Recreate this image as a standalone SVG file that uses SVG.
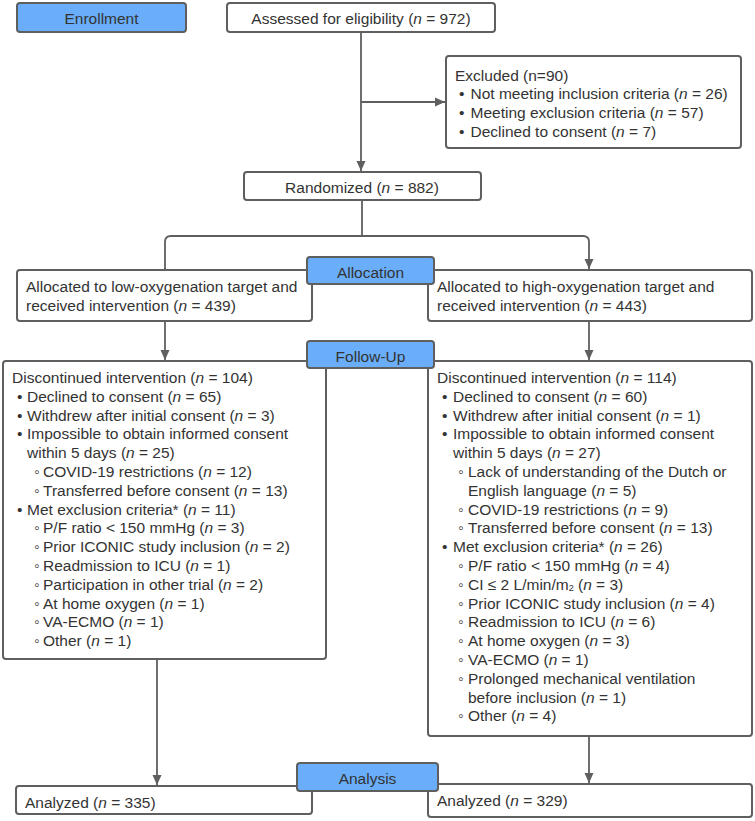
<svg xmlns="http://www.w3.org/2000/svg" width="755" height="821" viewBox="0 0 755 821">
<defs>
<style>
text{font-family:"Liberation Sans",Arial,sans-serif;font-size:15.5px;fill:#333}
.box{fill:#fff;stroke:#5f5f5f;stroke-width:2}
.lbl{fill:#6aaefa;stroke:#5f5f5f;stroke-width:2}
.c{text-anchor:middle}
.con{fill:none;stroke:#5f5f5f;stroke-width:1.8}
.i{font-style:italic}
</style>
<marker id="ah" viewBox="0 0 10 10" refX="10" refY="5" markerWidth="10" markerHeight="10" markerUnits="userSpaceOnUse" orient="auto">
<path d="M0,0.5 L10,5 L0,9.5 Z" fill="#5f5f5f"/>
</marker>
</defs>
<rect width="755" height="821" fill="#fff"/>
<g id="connectors">
<path class="con" d="M361,32 V171" marker-end="url(#ah)"/>
<path class="con" d="M361,102 H445" marker-end="url(#ah)"/>
<path class="con" d="M362,200 V236"/>
<path class="con" d="M165,269 V242 Q165,236 171,236 H583 Q589,236 589,242 V269" marker-end="url(#ah)"/>
<path class="con" d="M165,269 V268" marker-end="url(#ah)"/>
<path class="con" d="M165,321 V360" marker-end="url(#ah)"/>
<path class="con" d="M589,321 V360" marker-end="url(#ah)"/>
<path class="con" d="M157,659 V785" marker-end="url(#ah)"/>
<path class="con" d="M589,736 V783" marker-end="url(#ah)"/>
</g>
<g id="enrollment">
<rect class="lbl" x="17" y="3" width="169" height="29" rx="3"/>
<text class="c" x="101.5" y="24">Enrollment</text>
</g>
<g id="assessed">
<rect class="box" x="227" y="3" width="268" height="29" rx="3"/>
<text class="c" x="361" y="24">Assessed for eligibility (<tspan class="i">n</tspan> = 972)</text>
</g>
<g id="excluded">
<rect class="box" x="446" y="56" width="295" height="92" rx="3"/>
<text x="455" y="80.5">Excluded (n=90)</text>
<text x="459" y="99.2">•</text><text x="470.5" y="99.2">Not meeting inclusion criteria (<tspan class="i">n</tspan> = 26)</text>
<text x="459" y="117.9">•</text><text x="470.5" y="117.9">Meeting exclusion criteria (<tspan class="i">n</tspan> = 57)</text>
<text x="459" y="136.6">•</text><text x="470.5" y="136.6">Declined to consent (<tspan class="i">n</tspan> = 7)</text>
</g>
<g id="randomized">
<rect class="box" x="244" y="172" width="237" height="28" rx="3"/>
<text class="c" x="362" y="192.5">Randomized (<tspan class="i">n</tspan> = 882)</text>
</g>
<g id="alloc-low">
<rect class="box" x="17" y="270" width="295" height="51" rx="3"/>
<text x="26" y="292">Allocated to low-oxygenation target and</text>
<text x="26" y="310.7">received intervention (<tspan class="i">n</tspan> = 439)</text>
</g>
<g id="alloc-high">
<rect class="box" x="428" y="270" width="324" height="51" rx="3"/>
<text x="437" y="292">Allocated to high-oxygenation target and</text>
<text x="437" y="310.7">received intervention (<tspan class="i">n</tspan> = 443)</text>
</g>
<g id="disc-low">
<rect class="box" x="3" y="361" width="323" height="298" rx="3"/>
<text x="12" y="383">Discontinued intervention (<tspan class="i">n</tspan> = 104)</text>
<text x="17" y="401.8">•</text><text x="27" y="401.8">Declined to consent (<tspan class="i">n</tspan> = 65)</text>
<text x="17" y="420.6">•</text><text x="27" y="420.6">Withdrew after initial consent (<tspan class="i">n</tspan> = 3)</text>
<text x="17" y="439.4">•</text><text x="27" y="439.4">Impossible to obtain informed consent</text>
<text x="27" y="458.2">within 5 days (<tspan class="i">n</tspan> = 25)</text>
<text x="34" y="477">◦</text><text x="43" y="477">COVID-19 restrictions (<tspan class="i">n</tspan> = 12)</text>
<text x="34" y="495.8">◦</text><text x="43" y="495.8">Transferred before consent (<tspan class="i">n</tspan> = 13)</text>
<text x="17" y="514.6">•</text><text x="27" y="514.6">Met exclusion criteria* (<tspan class="i">n</tspan> = 11)</text>
<text x="34" y="533.4">◦</text><text x="43" y="533.4">P/F ratio &lt; 150 mmHg (<tspan class="i">n</tspan> = 3)</text>
<text x="34" y="552.2">◦</text><text x="43" y="552.2">Prior ICONIC study inclusion (<tspan class="i">n</tspan> = 2)</text>
<text x="34" y="571">◦</text><text x="43" y="571">Readmission to ICU (<tspan class="i">n</tspan> = 1)</text>
<text x="34" y="589.8">◦</text><text x="43" y="589.8">Participation in other trial (<tspan class="i">n</tspan> = 2)</text>
<text x="34" y="608.6">◦</text><text x="43" y="608.6">At home oxygen (<tspan class="i">n</tspan> = 1)</text>
<text x="34" y="627.4">◦</text><text x="43" y="627.4">VA-ECMO (<tspan class="i">n</tspan> = 1)</text>
<text x="34" y="646.2">◦</text><text x="43" y="646.2">Other (<tspan class="i">n</tspan> = 1)</text>
</g>
<g id="disc-high">
<rect class="box" x="428" y="361" width="324" height="375" rx="3"/>
<text x="437" y="383">Discontinued intervention (<tspan class="i">n</tspan> = 114)</text>
<text x="442" y="401.8">•</text><text x="453" y="401.8">Declined to consent (<tspan class="i">n</tspan> = 60)</text>
<text x="442" y="420.6">•</text><text x="453" y="420.6">Withdrew after initial consent (<tspan class="i">n</tspan> = 1)</text>
<text x="442" y="439.4">•</text><text x="453" y="439.4">Impossible to obtain informed consent</text>
<text x="453" y="458.2">within 5 days (<tspan class="i">n</tspan> = 27)</text>
<text x="458" y="477">◦</text><text x="468" y="477">Lack of understanding of the Dutch or</text>
<text x="468" y="495.8">English language (<tspan class="i">n</tspan> = 5)</text>
<text x="458" y="514.6">◦</text><text x="468" y="514.6">COVID-19 restrictions (<tspan class="i">n</tspan> = 9)</text>
<text x="458" y="533.4">◦</text><text x="468" y="533.4">Transferred before consent (<tspan class="i">n</tspan> = 13)</text>
<text x="442" y="552.2">•</text><text x="453" y="552.2">Met exclusion criteria* (<tspan class="i">n</tspan> = 26)</text>
<text x="458" y="571">◦</text><text x="468" y="571">P/F ratio &lt; 150 mmHg (<tspan class="i">n</tspan> = 4)</text>
<text x="458" y="589.8">◦</text><text x="468" y="589.8">CI ≤ 2 L/min/m<tspan font-size="9" dy="1">2</tspan><tspan dy="-1"> (</tspan><tspan class="i">n</tspan> = 3)</text>
<text x="458" y="608.6">◦</text><text x="468" y="608.6">Prior ICONIC study inclusion (<tspan class="i">n</tspan> = 4)</text>
<text x="458" y="627.4">◦</text><text x="468" y="627.4">Readmission to ICU (<tspan class="i">n</tspan> = 6)</text>
<text x="458" y="646.2">◦</text><text x="468" y="646.2">At home oxygen (<tspan class="i">n</tspan> = 3)</text>
<text x="458" y="665">◦</text><text x="468" y="665">VA-ECMO (<tspan class="i">n</tspan> = 1)</text>
<text x="458" y="683.8">◦</text><text x="468" y="683.8">Prolonged mechanical ventilation</text>
<text x="468" y="702.6">before inclusion (<tspan class="i">n</tspan> = 1)</text>
<text x="458" y="721.4">◦</text><text x="468" y="721.4">Other (<tspan class="i">n</tspan> = 4)</text>
</g>
<g id="analyzed-low">
<rect class="box" x="16" y="786" width="296" height="28" rx="3"/>
<text x="25" y="808">Analyzed (<tspan class="i">n</tspan> = 335)</text>
</g>
<g id="analyzed-high">
<rect class="box" x="428" y="784" width="324" height="33" rx="3"/>
<text x="437" y="806">Analyzed (<tspan class="i">n</tspan> = 329)</text>
</g>
<g id="allocation">
<rect class="lbl" x="307" y="257" width="127" height="27" rx="3"/>
<text class="c" x="370.5" y="277.5">Allocation</text>
</g>
<g id="followup">
<rect class="lbl" x="307" y="341" width="127" height="27" rx="3"/>
<text class="c" x="370.5" y="361.5">Follow-Up</text>
</g>
<g id="analysis">
<rect class="lbl" x="297" y="763" width="141" height="28" rx="3"/>
<text class="c" x="367.5" y="783.5">Analysis</text>
</g>
</svg>
